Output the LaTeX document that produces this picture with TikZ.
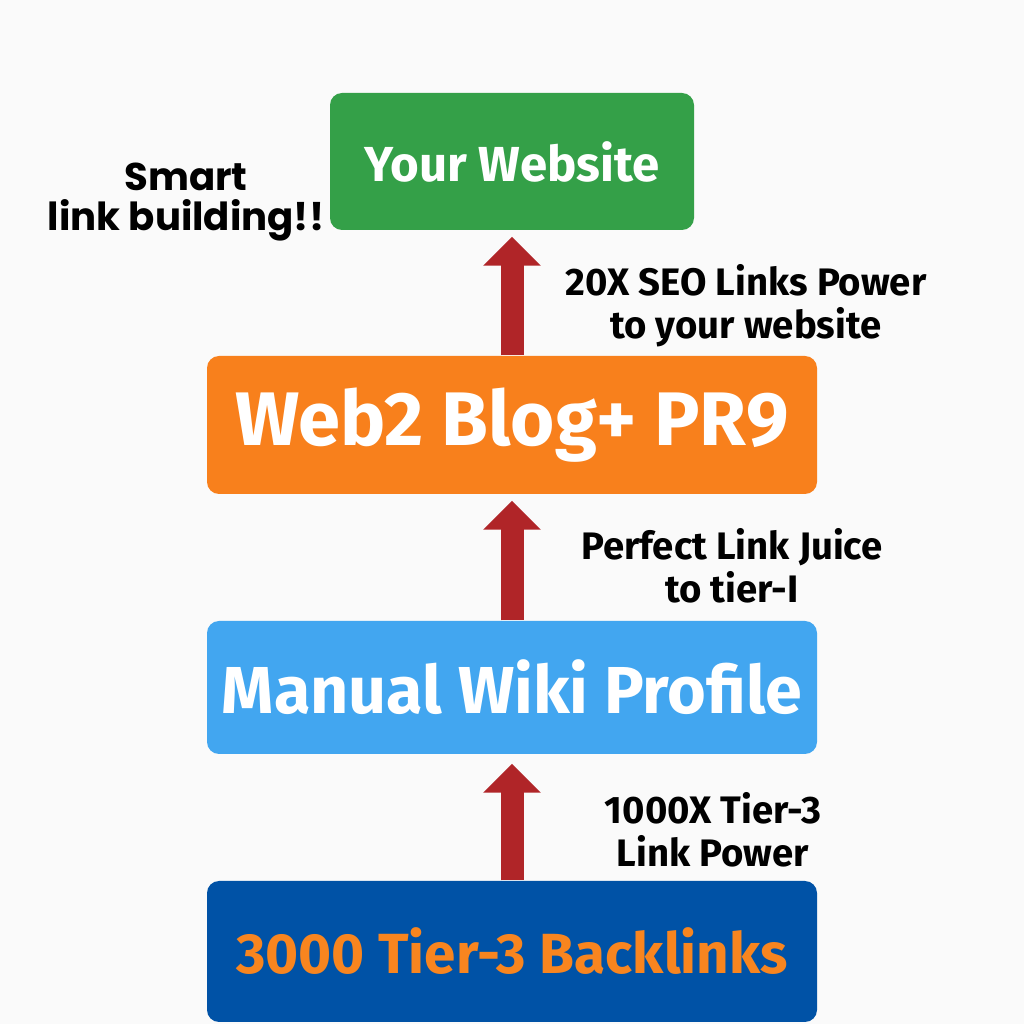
\documentclass[tikz,border=0pt]{standalone}
\usepackage{fontspec}
\usepackage{tikz}
\usetikzlibrary{arrows.meta}
\setmainfont{Fira Sans}
\newfontfamily\smartfont{Poppins}
\definecolor{sitegreen}{HTML}{34A048}
\definecolor{blogorange}{HTML}{F8801C}
\definecolor{wikiblue}{HTML}{42A6F0}
\definecolor{backblue}{HTML}{0052A6}
\definecolor{textorange}{HTML}{F8851F}
\definecolor{arrowred}{HTML}{B02528}
\definecolor{paper}{HTML}{FAFAFA}
\tikzset{
  tierbox/.style={rectangle, rounded corners=0.12cm, inner sep=0pt, minimum width=6.10cm, text=white, font=\bfseries},
  pushup/.style={draw=arrowred, line width=0.23cm, -{Triangle[width=0.56cm,length=0.29cm]}},
  powerlabel/.style={align=center, font=\bfseries\fontsize{10.9}{12.2}\selectfont}
}

\begin{document}
\begin{tikzpicture}
    % Page
    \fill[paper] (0,0) rectangle (10.24,10.24);
    \useasboundingbox (0,0) rectangle (10.24,10.24);
    % Tiers
    \node[tierbox, fill=sitegreen, minimum width=3.64cm, minimum height=1.37cm, font=\bfseries\fontsize{14}{16}\selectfont] (site) at (5.12,8.625) {Your Website};
    \node[tierbox, fill=blogorange, minimum height=1.38cm, font=\bfseries\fontsize{21.6}{24}\selectfont] (blog) at (5.12,5.99) {Web2 Blog+ PR9};
    \node[tierbox, fill=wikiblue, minimum height=1.33cm, font=\bfseries\fontsize{18.9}{22}\selectfont] (wiki) at (5.12,3.365) {Manual Wiki Profile};
    \node[tierbox, fill=backblue, minimum height=1.41cm, text=textorange, font=\bfseries\fontsize{16.1}{20}\selectfont] (links) at (5.12,0.725) {3000 Tier-3 Backlinks};
    % Arrows
    \draw[pushup, shorten >=0.06cm] (blog.north) -- (site.south);
    \draw[pushup, shorten >=0.06cm] (wiki.north) -- (blog.south);
    \draw[pushup, shorten >=0.09cm] (links.north) -- (wiki.south);
    % Labels
    \node[powerlabel] (seo) at (7.46,7.18) {20X SEO Links Power\\to your website};
    \node[powerlabel] (juice) at (7.32,4.58) {Perfect Link Juice\\to tier-I};
    \node[powerlabel] (tier) at (7.13,1.94) {1000X Tier-3\\Link Power};
    \node[align=center, font=\smartfont\bfseries\fontsize{11}{11.6}\selectfont] (smart) at (1.86,8.22) {Smart\\link building!!};
\end{tikzpicture}
\end{document}
